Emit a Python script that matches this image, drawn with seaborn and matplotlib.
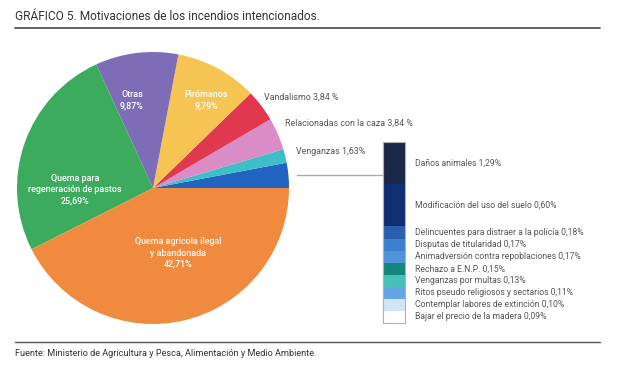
import matplotlib
matplotlib.use("Agg")
import matplotlib.pyplot as plt
import seaborn as sns
import numpy as np

sns.set_theme(style="white")
plt.rcParams['font.family'] = ['Roboto', 'DejaVu Sans']

# ---- data ----
pie_labels = ["Otros motivos", "Venganzas", "Relacionadas con la caza", "Vandalismo",
              "Pirómanos", "Otras", "Quema para regeneración de pastos",
              "Quema agrícola ilegal y abandonada"]
pie_values = [None, 1.63, 3.84, 3.84, 9.79, 9.87, 25.69, 42.71]

bar_labels = ["Daños animales", "Modificación del uso del suelo",
              "Delincuentes para distraer a la policía", "Disputas de titularidad",
              "Animadversión contra repoblaciones", "Rechazo a E.N.P.",
              "Venganzas por multas", "Ritos pseudo religiosos y sectarios",
              "Contemplar labores de extinción", "Bajar el precio de la madera"]
bar_values = [1.29, 0.60, 0.18, 0.17, 0.17, 0.15, 0.13, 0.11, 0.10, 0.09]

pie_values[0] = sum(bar_values)

# ---- styles ----
pie_colors = ["#2262c0", "#3dbfc6", "#d98cc6", "#e0384f", "#f6c453",
              "#7c6db6", "#3cab5d", "#ef8a3f"]
bar_colors = ["#1b2948", "#0f2f72", "#2a5fae", "#3b7fcf", "#4c95db",
              "#14867a", "#47c0bb", "#63a6e3", "#cfe6f6", "#ffffff"]
bar_units = [3.5, 3.5, 1, 1, 1, 1, 1, 1, 1, 1]   # display spans of legend-bar rows

W, H = 635, 375
fig = plt.figure(figsize=(W / 100, H / 100), dpi=100)
fig.patch.set_facecolor("white")

def fx(x):
    return x / W

def fy(y):
    return 1 - y / H

# ---- pie ----
cx, cy, r = 153, 188, 136
pax = fig.add_axes([fx(cx - r), fy(cy + r), 2 * r / W, 2 * r / H])
pax.pie(pie_values, colors=pie_colors, startangle=0, counterclock=True,
        radius=1, wedgeprops=dict(linewidth=0))
pax.set_xlim(-1, 1)
pax.set_ylim(-1, 1)
pax.set_aspect("auto")
pax.axis("off")

# ---- stacked legend bar ----
bx0, bx1, by0, by1 = 383, 405, 142, 323
bax = fig.add_axes([fx(bx0), fy(by1), (bx1 - bx0) / W, (by1 - by0) / H])
bottoms = np.concatenate([[0], np.cumsum(bar_units)[:-1]])
bax.bar([0] * len(bar_units), bar_units, bottom=bottoms, width=1.0,
        color=bar_colors, linewidth=0)
bax.set_xlim(-0.5, 0.5)
bax.set_ylim(sum(bar_units), 0)
bax.set_xticks([])
bax.set_yticks([])
for s in bax.spines.values():
    s.set_visible(True)
    s.set_color("#b0b0b0")
    s.set_linewidth(0.8)

def fmt(v):
    return f"{v:.2f}".replace(".", ",")

trans = matplotlib.transforms.blended_transform_factory(bax.transAxes, bax.transData)
for lab, v, b, u in zip(bar_labels, bar_values, bottoms, bar_units):
    bax.text(1.45, b + u / 2, f"{lab} {fmt(v)}%", transform=trans,
             ha="left", va="center", fontsize=6.2, color="#555555", clip_on=False)

# overlay for header/footer and labels (on top)
ov = fig.add_axes([0, 0, 1, 1])
ov.set_zorder(10)
ov.set_xlim(0, W)
ov.set_ylim(H, 0)
ov.axis("off")
ov.text(15, 17, "GRÁFICO 5. Motivaciones de los incendios intencionados.",
        fontsize=8.6, color="#333333", va="center", ha="left")
ov.plot([15, 600], [27.5, 27.5], color="#555555", lw=1.3)
ov.plot([15, 600], [342, 342], color="#555555", lw=1.0)
ov.text(15, 353.5, "Fuente: Ministerio de Agricultura y Pesca, Alimentación y Medio Ambiente.",
        fontsize=6.6, color="#333333", va="center", ha="left")
ov.plot([297, 383], [175, 175], color="#aaaaaa", lw=1.0)

inside = {5: (132, 100, "Otras"), 4: (206, 100, "Pirómanos"),
          6: (75, 190, "Quema para\nregeneración de pastos"),
          7: (178, 253, "Quema agrícola ilegal\ny abandonada")}
for i, (x, y, lab) in inside.items():
    ov.text(x, y, f"{lab}\n{fmt(pie_values[i])}%", ha="center", va="center",
            fontsize=6.4, color="white", linespacing=1.35, fontweight="medium")

outside = {3: (264, 97), 2: (285, 123), 1: (296, 151)}
for i, (x, y) in outside.items():
    suffix = " %" if pie_values[i] > 3 else "%"
    ov.text(x, y, f"{pie_labels[i]} {fmt(pie_values[i])}{suffix}",
            ha="left", va="center", fontsize=6.4, color="#555555")

fig.savefig("out.png", dpi=100, facecolor="white")
